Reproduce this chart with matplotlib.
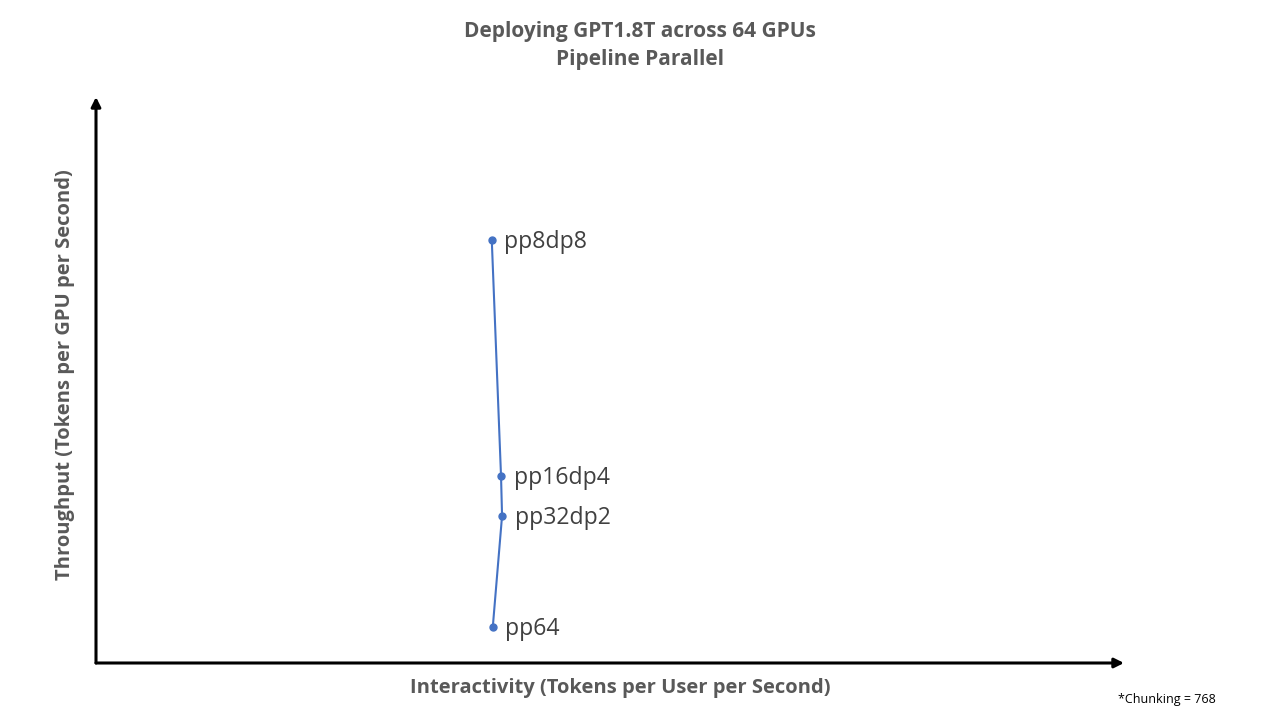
import matplotlib.pyplot as plt

# configurations and their (interactivity, throughput) positions, arbitrary units
configs = ['pp8dp8', 'pp16dp4', 'pp32dp2', 'pp64']
interactivity = [38.5, 39.4, 39.5, 38.6]
throughput = [74.7, 33.0, 26.0, 6.4]

plt.rcParams['font.family'] = ['Open Sans', 'DejaVu Sans']

fig = plt.figure(figsize=(12.8, 7.2), dpi=100)
ax = fig.add_axes([96 / 1280, 57 / 720, 1028 / 1280, 566 / 720])
ax.set_xlim(0, 100)
ax.set_ylim(0, 100)

ax.plot(interactivity, throughput, color='#4472C4', lw=1.5, marker='o', ms=5)
for name, x, y in zip(configs, interactivity, throughput):
    ax.annotate(name, (x, y), xytext=(9, -1.5), textcoords='offset points',
                va='center', ha='left', fontsize=16.6, color='#404040')

# axes drawn as arrows
for s in ax.spines.values():
    s.set_visible(False)
ax.set_xticks([])
ax.set_yticks([])
arrow = dict(arrowstyle='-|>', color='black', lw=2.2, mutation_scale=14,
             shrinkA=0, shrinkB=0)
ax.annotate('', xy=(1.0, 0), xytext=(0, 0), xycoords='axes fraction', arrowprops=arrow)
ax.annotate('', xy=(0, 1.0), xytext=(0, 0), xycoords='axes fraction', arrowprops=arrow)

fig.text(640 / 1280, 1 - 32 / 720, 'Deploying GPT1.8T across 64 GPUs', ha='center', va='center',
         fontsize=15, fontweight='bold', color='#595959')
fig.text(640 / 1280, 1 - 59 / 720, 'Pipeline Parallel', ha='center', va='center',
         fontsize=15, fontweight='bold', color='#595959')
fig.text(620 / 1280, 1 - 688 / 720, 'Interactivity (Tokens per User per Second)', ha='center',
         va='center', fontsize=14.5, fontweight='bold', color='#595959')
fig.text(65 / 1280, 1 - 375 / 720, 'Throughput (Tokens per GPU per Second)', ha='center',
         va='center', rotation=90, fontsize=14.5, fontweight='bold', color='#595959')
fig.text(1167 / 1280, 1 - 699 / 720, '*Chunking = 768', ha='center', va='center',
         fontsize=9, color='black')

fig.savefig('out.png', dpi=100)
